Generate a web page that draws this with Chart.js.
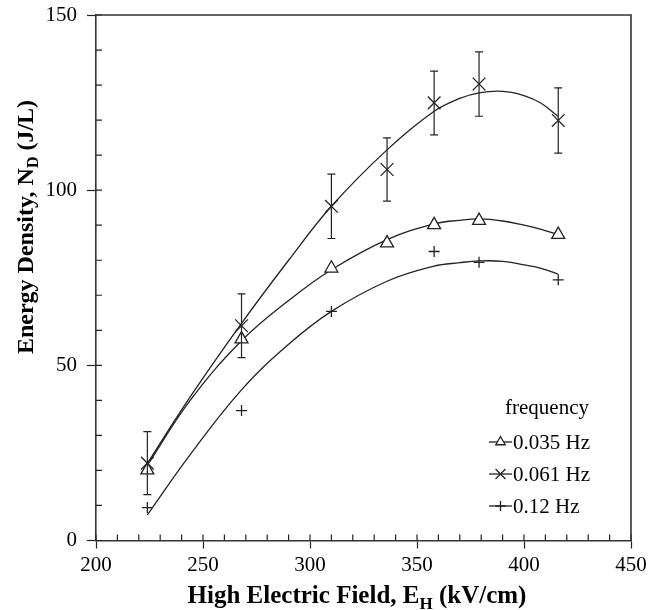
<!DOCTYPE html>
<html>
<head>
<meta charset="utf-8">
<script src="https://cdn.jsdelivr.net/npm/chart.js@4"></script>
<style>
  html, body { margin: 0; padding: 0; background: #fff; }
  #grafico { display: block; }
</style>
</head>
<body>
<canvas id="grafico" width="651" height="610"></canvas>
<script>
(() => {
  // pontos medidos
  const campo = [224, 268, 310, 336, 358, 379, 416];
  const dens035 = [20.1, 57.5, 77.7, 84.9, 90.1, 91.3, 87.3];
  const dens061 = [22.1, 61.3, 95.4, 105.9, 124.9, 130.3, 119.9];
  const erro061 = [9.0, 9.1, 9.2, 9.0, 9.1, 9.2, 9.3];
  const campo12 = [224, 268, 310, 358, 379, 416];
  const dens12 = [9.4, 37.1, 65.4, 82.5, 79.4, 74.4];

  // curvas ajustadas
  const ajusteX = [224, 244, 268, 290, 310, 336, 358, 370, 379, 390, 400, 408, 416];
  const ajuste035 = [21.5, 40, 57, 68.5, 77.3, 85.9, 90.4, 91.4, 91.8, 91.2, 90, 88.8, 87.3];
  const ajuste061 = [22, 41, 62, 80, 95.4, 111.5, 122.5, 126.2, 127.8, 128.2, 127, 124.8, 121];
  const ajuste12 = [7.3, 24.5, 43, 56, 65.4, 74, 78.3, 79.3, 79.8, 79.7, 78.7, 77.7, 76];

  const legendas = ['0.035 Hz', '0.061 Hz', '0.12 Hz'];
  const marcadores = ['triangle', 'crossRot', 'cross'];

  const COR = '#222';
  const FONTE = '"Liberation Serif", "Times New Roman", serif';

  const pares = (xs, ys) => xs.map((x, i) => ({ x, y: ys[i] }));

  const linha = (ys) => ({
    data: pares(ajusteX, ys),
    showLine: true,
    borderColor: COR,
    borderWidth: 1.3,
    pointRadius: 0,
    tension: 0.4,
    order: 2
  });

  const pontos = (xs, ys, estilo, raio) => ({
    data: pares(xs, ys),
    showLine: false,
    pointStyle: estilo,
    pointRadius: raio,
    pointBorderColor: COR,
    pointBackgroundColor: '#fff',
    pointBorderWidth: 1.3,
    order: 1
  });

  function medePartes(ctx, partes, tam) {
    let largura = 0;
    partes.forEach(p => {
      ctx.font = `bold ${p.sub ? Math.round(tam * 0.68) : tam}px ${FONTE}`;
      p.w = ctx.measureText(p.t).width;
      largura += p.w;
    });
    return largura;
  }

  function desenhaPartes(ctx, partes, tam, x0, base) {
    let x = x0;
    partes.forEach(p => {
      ctx.font = `bold ${p.sub ? Math.round(tam * 0.68) : tam}px ${FONTE}`;
      ctx.fillText(p.t, x, p.sub ? base + tam * 0.22 : base);
      x += p.w;
    });
  }

  const moldura = {
    id: 'moldura',
    afterDatasetsDraw(chart) {
      const { ctx, scales: { x, y } } = chart;
      ctx.save();
      ctx.strokeStyle = COR;
      ctx.lineWidth = 1.2;
      ctx.beginPath();
      campo.forEach((v, i) => {
        const px = x.getPixelForValue(v);
        const topo = y.getPixelForValue(dens061[i] + erro061[i]);
        const base = y.getPixelForValue(dens061[i] - erro061[i]);
        ctx.moveTo(px, topo); ctx.lineTo(px, base);
        ctx.moveTo(px - 4, topo); ctx.lineTo(px + 4, topo);
        ctx.moveTo(px - 4, base); ctx.lineTo(px + 4, base);
      });
      ctx.stroke();
      ctx.restore();
    },
    afterDraw(chart) {
      const { ctx, chartArea: a, scales: { x, y } } = chart;
      ctx.save();
      ctx.strokeStyle = COR;
      ctx.lineWidth = 1.2;
      ctx.beginPath();
      for (let v = x.min; v <= x.max; v += 10) {
        const px = x.getPixelForValue(v);
        ctx.moveTo(px, a.bottom); ctx.lineTo(px, a.bottom - 6);
      }
      for (let v = y.min; v <= y.max; v += 10) {
        const py = y.getPixelForValue(v);
        ctx.moveTo(a.left, py); ctx.lineTo(a.left + 6, py);
      }
      ctx.stroke();
      ctx.strokeStyle = '#333';
      ctx.lineWidth = 1.6;
      ctx.beginPath();
      ctx.moveTo(a.left, a.top); ctx.lineTo(a.right, a.top); ctx.lineTo(a.right, a.bottom);
      ctx.stroke();

      // titulos dos eixos
      ctx.fillStyle = '#000';
      ctx.textBaseline = 'alphabetic';
      const tituloX = [{ t: 'High Electric Field, E' }, { t: 'H', sub: true }, { t: ' (kV/cm)' }];
      const lx = medePartes(ctx, tituloX, 25);
      desenhaPartes(ctx, tituloX, 25, 357 - lx / 2, 603);

      const tituloY = [{ t: 'Energy Density, N' }, { t: 'D', sub: true }, { t: ' (J/L)' }];
      const ly = medePartes(ctx, tituloY, 24);
      ctx.save();
      ctx.translate(33, 227);
      ctx.rotate(-Math.PI / 2);
      desenhaPartes(ctx, tituloY, 24, -ly / 2, 0);
      ctx.restore();

      // legenda
      ctx.font = `21px ${FONTE}`;
      ctx.fillText('frequency', 505, 414);
      legendas.forEach((txt, i) => {
        const base = 449 + i * 32;
        const cy = base - 7;
        ctx.beginPath();
        ctx.strokeStyle = COR;
        ctx.lineWidth = 1.3;
        ctx.moveTo(489, cy); ctx.lineTo(512, cy);
        ctx.stroke();
        ctx.fillStyle = '#fff';
        Chart.helpers.drawPoint(ctx, { pointStyle: marcadores[i], radius: [5.5, 7, 5][i], borderWidth: 1.3 }, 500.5, cy);
        ctx.fillStyle = '#000';
        ctx.font = `21px ${FONTE}`;
        ctx.fillText(txt, 513, base);
      });
      ctx.restore();
    }
  };

  new Chart(document.getElementById('grafico'), {
    type: 'scatter',
    data: {
      datasets: [
        linha(ajuste035),
        linha(ajuste061),
        linha(ajuste12),
        pontos(campo, dens035, marcadores[0], 7.5),
        pontos(campo, dens061, marcadores[1], 9),
        pontos(campo12, dens12, marcadores[2], 5.5)
      ]
    },
    options: {
      responsive: false,
      animation: false,
      devicePixelRatio: 1,
      layout: { padding: { top: 15, right: 20, left: 0, bottom: 0 } },
      plugins: { legend: { display: false }, tooltip: { enabled: false } },
      scales: {
        x: {
          type: 'linear',
          min: 200, max: 450,
          afterFit: s => { s.height = 69.5; },
          ticks: { stepSize: 50, padding: 4, color: '#000', font: { family: FONTE, size: 21 } },
          grid: { drawOnChartArea: false, tickLength: 8, color: COR, tickWidth: 1.2 },
          border: { display: true, color: '#333', width: 1.6 }
        },
        y: {
          min: 0, max: 150,
          afterFit: s => { s.width = 96; s.paddingTop = 0; s.paddingBottom = 0; },
          ticks: { stepSize: 50, padding: 10, color: '#000', font: { family: FONTE, size: 21 } },
          grid: { drawOnChartArea: false, tickLength: 9, color: COR, tickWidth: 1.2 },
          border: { display: true, color: '#333', width: 1.6 }
        }
      }
    },
    plugins: [moldura]
  });
})();
</script>
</body>
</html>
